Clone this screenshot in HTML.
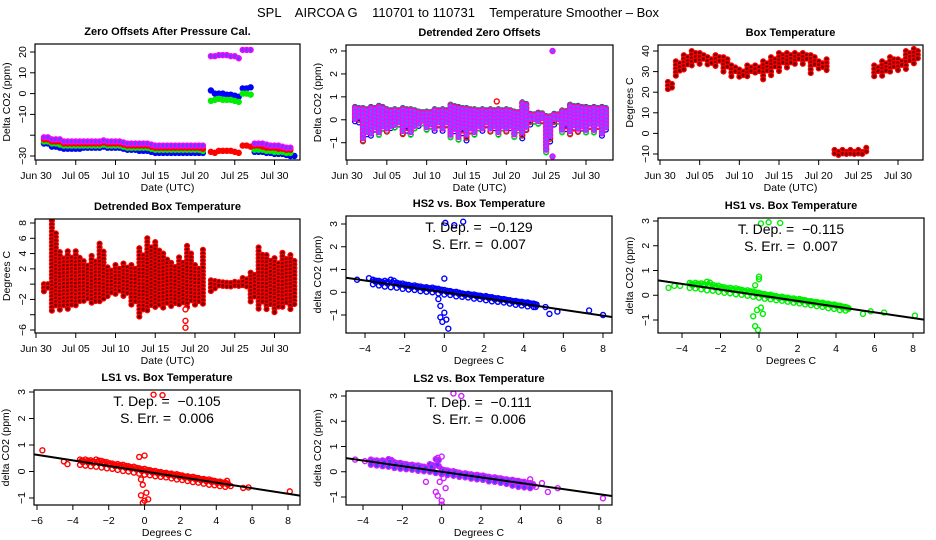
<!DOCTYPE html>
<html><head><meta charset="utf-8"><style>
html,body{margin:0;padding:0;background:#fff;}
svg{display:block;font-family:"Liberation Sans",Arial,sans-serif;}
</style></head><body>
<svg id="chart" width="936" height="540" viewBox="0 0 936 540"></svg>
<script>
// ---------- DATA ----------
const zoMag=[-21,-21,-22,-22,-22,-23,-23,-23,-23,-23,-23,-23,-23,-23,-23,-22.5,-23,-23,-23,-23,-23.5,-24,-24,-24,-24,-24,-24,-24.5,-25,-25,-25,-25,-25,-25,-25,-25,-25,-25,-25,-25,-25,null,18,18,18.5,18.5,18.5,18,18,17,21,21,21,-24,-24,-24,-24.5,-25,-25,-25,-25.5,-26,-26];
const zoRed=[-22,-22,-23,-23,-23,-24,-24,-24,-24,-24,-24,-24,-24,-24,-24,-23.5,-24,-24,-24,-24,-24.5,-25,-25,-25,-25,-25,-25,-25.5,-26,-26,-26,-26,-26,-26,-26,-26,-26,-26,-26,-26,-26.5,null,-28,-28.5,-27.5,-27.5,-27.5,-27.5,-28,-28.5,-25,-25,-25.5,-25,-25,-25.5,-26,-26,-26,-26.5,-26.5,-27,-27];
const zoGreen=[-23,-23,-24,-24,-24.5,-25,-25,-25,-25,-25,-25,-25,-25,-25,-25,-24.5,-25,-25,-25,-25,-25.5,-26,-26,-26,-26,-26,-26,-26.5,-27,-27,-27,-27,-27,-27,-27,-27,-27,-27,-27,-27,-27.5,null,-3.5,-3,-2.5,-3,-3,-3,-3.5,-4,0,0,-0.5,-27,-27,-27,-27.5,-27.5,-28,-28,-28,-28.5,-28.5];
const zoBlue=[-24,-24,-25.5,-25.5,-26,-26.5,-26.5,-26.5,-26.5,-26.5,-26,-26,-26,-26,-26,-25.5,-26,-26,-26,-26,-26.5,-27,-27,-27,-27.5,-27.5,-27.5,-28,-28.5,-28.5,-28.5,-28.5,-28.5,-28.5,-28.5,-28.5,-28.5,-28.5,-28.5,-28.5,-28.5,null,1.5,0,0,0,-0.5,-0.5,-1,-1.5,2.5,2.5,3,-28,-28,-28,-28.5,-28.5,-29,-29,-29,-29.5,-30,-30];
const dzHi=[0.5,0.45,0.5,0.55,0.4,0.4,0.45,0.4,0.3,0.3,0.4,0.4,0.6,0.5,0.45,0.4,0.4,0.4,0.4,0.4,0.3,0.7,0.2,0.25,0.1,0.2,0.35,0.6,0.55,0.5,0.5,0.5];
const dzLo=[0,-0.9,-0.6,-0.6,-0.5,-0.3,-0.6,-0.6,-0.2,-0.4,-0.4,-0.4,-0.7,-0.8,-0.8,-0.6,-0.4,-0.5,-0.6,-0.5,-0.7,-0.7,-0.1,-0.1,-1.4,-0.1,-0.5,-0.6,-0.5,-0.5,-0.5,-0.6];
const dzSpikeDay=[25.8,25.8,18.8];
const dzSpikeVal=[3.0,-1.6,0.8];
const btHi=[25,35,38,40,39,37,38,37,33,31,33,33,35,37,39,39,39,39,38,35,36,-8,-8,-8,-8,-7,33,35,37,36,40,41];
const btLo=[21,28,30,32,33,32,32,30,27,27,27,28,25,28,30,32,33,33,29,30,30,-11,-10,-10,-10,-9,27,28,29,30,30,34];
const dbHi=[0,8.3,4.2,4.3,4.3,3,3.7,5.3,2.2,2.5,2.7,2.5,4.7,6,5.5,4,2.8,3.5,5,2.5,4.5,0.5,0.3,0.2,0.3,0.8,1.5,4.8,3.8,3.4,4.1,3.8];
const dbLo=[-1,-3.5,-3.5,-3.5,-3,-2.5,-2.8,-2.6,-1.6,-1.6,-1.8,-3,-4.5,-3.8,-3.4,-3.2,-3.2,-3,-3,-2.8,-2.7,-1,-0.5,-0.5,-0.6,-0.6,-2.5,-3.4,-3.4,-3.8,-3.3,-3.4];
const dbOutDay=[18.8,18.8,18.8];
const dbOutVal=[-3.3,-4.8,-5.7];
const cloudX=[-3.6,-3.3,-3.0,-2.7,-2.4,-2.1,-1.8,-1.5,-1.2,-0.9,-0.6,-0.3,0,0.3,0.6,0.9,1.2,1.5,1.8,2.1,2.4,2.7,3.0,3.3,3.6,3.9,4.2,4.5];
const spikeX=[-0.3,-0.2,-0.1,0,0,0.1,0.2,-0.2];
const hs2Hi=[0.55,0.5,0.5,0.55,0.42,0.38,0.32,0.3,0.25,0.22,0.2,0.15,0.1,0.05,0.02,-0.05,-0.07,-0.1,-0.15,-0.17,-0.22,-0.26,-0.3,-0.35,-0.38,-0.42,-0.45,-0.5];
const hs2Lo=[0.35,0.3,0.25,0.22,0.2,0.15,0.12,0.1,0.05,0.02,0,-0.05,-0.1,-0.12,-0.18,-0.2,-0.23,-0.28,-0.3,-0.35,-0.4,-0.42,-0.45,-0.5,-0.55,-0.58,-0.62,-0.65];
const hs2Spike=[-0.3,-1.1,-1.3,-0.9,0.6,-1.2,-1.6,-0.6];
const hs2OutX=[-4.4,-3.8,4.6,5.1,5.3,5.7,7.3,8.0,0.05,0.95,0.5];
const hs2OutY=[0.55,0.62,-0.65,-0.65,-0.95,-0.85,-0.8,-1.0,3.05,3.1,2.95];
const hs1Hi=[0.5,0.5,0.48,0.55,0.42,0.38,0.32,0.3,0.28,0.22,0.2,0.15,0.1,0.05,0.02,-0.04,-0.06,-0.1,-0.13,-0.15,-0.2,-0.24,-0.27,-0.3,-0.34,-0.37,-0.42,-0.48];
const hs1Lo=[0.3,0.28,0.24,0.2,0.18,0.14,0.1,0.08,0.04,0.02,-0.02,-0.06,-0.1,-0.14,-0.16,-0.2,-0.22,-0.26,-0.3,-0.33,-0.37,-0.4,-0.44,-0.47,-0.52,-0.55,-0.6,-0.62];
const hs1Spike=[-0.85,0.4,-0.6,0.65,0.75,-0.5,-0.75,-1.25];
const hs1OutX=[-4.7,-4.4,-4.1,5.4,5.8,6.5,8.1,-0.05,0.1,0.5,1.1];
const hs1OutY=[0.3,0.38,0.38,-0.75,-0.65,-0.7,-0.82,-1.4,2.9,2.95,2.92];
const ls1Hi=[0.45,0.45,0.42,0.45,0.4,0.35,0.3,0.28,0.25,0.2,0.18,0.12,0.1,0.05,0.02,-0.02,-0.05,-0.08,-0.1,-0.15,-0.18,-0.2,-0.25,-0.28,-0.3,-0.35,-0.38,-0.42];
const ls1Lo=[0.25,0.22,0.2,0.18,0.15,0.12,0.1,0.06,0.02,0,-0.04,-0.08,-0.12,-0.14,-0.18,-0.2,-0.22,-0.26,-0.3,-0.32,-0.36,-0.4,-0.42,-0.46,-0.5,-0.52,-0.55,-0.58];
const ls1Spike=[0.55,-0.9,-0.5,0.6,-1.1,-0.8,-1.05,-0.3];
const ls1OutX=[-5.7,-4.5,-4.3,4.6,4.8,5.5,5.8,8.1,0.5,1.0,-0.1];
const ls1OutY=[0.8,0.38,0.28,-0.35,-0.55,-0.62,-0.6,-0.75,2.9,2.88,-1.18];
const ls2Hi=[0.48,0.45,0.45,0.5,0.38,0.35,0.3,0.28,0.25,0.2,0.3,0.5,0.1,0.05,0.02,-0.04,-0.06,-0.1,-0.12,-0.15,-0.2,-0.22,-0.26,-0.3,-0.32,-0.36,-0.4,-0.45];
const ls2Lo=[0.28,0.25,0.22,0.2,0.15,0.12,0.1,0.08,0.04,0.02,0,-0.05,-0.1,-0.13,-0.16,-0.2,-0.22,-0.27,-0.3,-0.32,-0.38,-0.4,-0.44,-0.48,-0.55,-0.6,-0.62,-0.65];
const ls2Spike=[-0.8,0.55,-0.4,0.6,-1.15,-0.25,-0.65,-0.95];
const ls2OutX=[-4.4,-3.9,4.5,4.8,5.1,5.4,5.9,8.2,0.6,1.0,-0.8,0];
const ls2OutY=[0.48,0.42,-0.3,-0.6,-0.45,-0.8,-0.65,-1.05,3.1,3.0,-0.4,-1.3];
const slopes=[-0.129,-0.115,-0.105,-0.111];
const intercepts=[0,0,0,0];
const sErr=["0.007","0.007","0.006","0.006"];
const dateTicks=[0,5,10,15,20,25,30];
const dateLabels=["Jun 30","Jul 05","Jul 10","Jul 15","Jul 20","Jul 25","Jul 30"];

// ---------- DRAWING ----------
const NS="http://www.w3.org/2000/svg";
const svg=document.getElementById('chart');
function mk(tag,attrs,parent){const e=document.createElementNS(NS,tag);for(const k in attrs)e.setAttribute(k,attrs[k]);(parent||svg).appendChild(e);return e;}
function txt(s,x,y,size,opts,parent){const t=mk('text',Object.assign({x:x,y:y,'font-size':size,'text-anchor':'middle',fill:'#000'},opts||{}),parent);t.textContent=s;return t;}
function lin(v1,p1,v2,p2){return v=>p1+(v-v1)*(p2-p1)/(v2-v1);}

function panel(name,box,xm,ym,title,xlab,ylab,xt,xtl,yt,ytl){
  const g=mk('g',{});
  
  
  const X=lin(xm[0],xm[1],xm[2],xm[3]),Y=lin(ym[0],ym[1],ym[2],ym[3]);
  const clip=mk('clipPath',{id:name+'-clip'},g);
  mk('rect',{x:box[0],y:box[1],width:box[2]-box[0],height:box[3]-box[1]},clip);
  const plot=mk('g',{'clip-path':'url(#'+name+'-clip)'},g);
  
  
  const frame=mk('rect',{x:box[0],y:box[1],width:box[2]-box[0],height:box[3]-box[1],fill:'none',stroke:'#000','stroke-width':1.2},g);
  
  
  const tt=txt(title,(box[0]+box[2])/2,box[1]-9,11,{'font-weight':'bold'},g);
  
  
  const xa=mk('g',{},g);
  
  
  mk('line',{x1:X(xt[0]),x2:X(xt[xt.length-1]),y1:box[3],y2:box[3],stroke:'#000'},xa);
  xt.forEach((v,i)=>{mk('line',{x1:X(v),x2:X(v),y1:box[3],y2:box[3]+5,stroke:'#000'},xa);
    const l=txt(xtl[i],X(v),box[3]+19,10.5,{},xa);
    
    });
  const xl=txt(xlab,(box[0]+box[2])/2,box[3]+31,10.5,{},g);
  
  
  const ya=mk('g',{},g);
  
  
  mk('line',{x1:box[0],x2:box[0],y1:Y(yt[0]),y2:Y(yt[yt.length-1]),stroke:'#000'},ya);
  yt.forEach((v,i)=>{mk('line',{x1:box[0],x2:box[0]-5,y1:Y(v),y2:Y(v),stroke:'#000'},ya);
    if(ytl[i]!==''){const lx=box[0]-9;const l=txt(ytl[i],lx,Y(v),10.5,{transform:'rotate(-90 '+lx+' '+Y(v)+')'},ya);
    
    }});
  const ylx=box[0]-25,yly=(box[1]+box[3])/2;
  const yl=txt(ylab,ylx,yly,10.5,{transform:'rotate(-90 '+ylx+' '+yly+')'},g);
  
  
  return {X,Y,plot,box,g};
}
function pt(P,x,y,stroke,fill,nm){const c=mk('circle',{cx:P.X(x),cy:P.Y(y),r:2.5,fill:fill||'none',stroke:stroke,'stroke-width':1.4},P.plot);
  
  }
function column(P,day,lo,hi,stroke,fill,nm){const top=P.Y(hi),bot=P.Y(lo);
  for(let py=top;py<=bot+0.1;py+=3.6){const c=mk('circle',{cx:P.X(day),cy:py,r:2.4,fill:fill,stroke:stroke,'stroke-width':1.3},P.plot);
    
    }
  if(bot-top<3.6){const c=mk('circle',{cx:P.X(day),cy:bot,r:2.4,fill:fill,stroke:stroke,'stroke-width':1.3},P.plot);
    
    }}

const mt=txt('SPL    AIRCOA G    110701 to 110731    Temperature Smoother \u2013 Box',458,17,13,{style:'white-space:pre'});



const P1=panel('zero-offsets-panel',[35,44,300,160],[0,36,30,274.5],[20,52,-30,156],'Zero Offsets After Pressure Cal.','Date (UTC)','Delta CO2 (ppm)',dateTicks,dateLabels,[-30,-20,-10,0,10,20],['\u221230','','\u221210','0','10','20']);
[[zoBlue,'#0000ff','#0000ff','blue-series'],[zoGreen,'#00ee00','#00ee00','green-series'],[zoRed,'#ff0000','#ff0000','red-series'],[zoMag,'#ff00ff','#6040ff','magenta-series']].forEach(s=>{
  s[0].forEach((v,i)=>{if(v!==null)pt(P1,1+0.5*i,v,s[1],s[2],s[3]+'-point');});});

const P2=panel('detrended-zero-offsets-panel',[346,45,613,160],[0,347,30,586],[3,51,-1,142.7],'Detrended Zero Offsets','Date (UTC)','Delta CO2 (ppm)',dateTicks,dateLabels,[-1,0,1,2,3],['\u22121','0','1','2','3']);
[['#0000ff','none',0.12,'blue'],['#00ee00','none',0.08,'green'],['#ff0000','none',0.04,'red'],['#ff00ff','#6060ff',0,'magenta']].forEach(s=>{
  dzHi.forEach((h,i)=>{column(P2,1+i,dzLo[i]-s[2],h+s[2]*0.5,s[0],s[1],s[3]+'-detrended-point');column(P2,1.5+i,dzLo[i]*0.6-s[2],h*0.9+s[2]*0.5,s[0],s[1],s[3]+'-detrended-point');});});
dzSpikeDay.forEach((d,i)=>pt(P2,d,dzSpikeVal[i],i==2?'#ff0000':'#ff00ff',i==2?'#fff':'#6060ff','spike-point'));

const P3=panel('box-temperature-panel',[658,45,923,160],[0,660,30,898],[40,51,-10,154],'Box Temperature','Date (UTC)','Degrees C',dateTicks,dateLabels,[-10,0,10,20,30,40],['\u221210','0','10','20','30','40']);
btHi.forEach((h,i)=>{column(P3,1+i,btLo[i],h,'#ff0000','#700','box-temp-point');if(i!==20&&i!==25)column(P3,1.5+i,(btLo[i]+h)/2-1,h-1,'#ff0000','#700','box-temp-point');});

const P4=panel('detrended-box-temperature-panel',[35,219,300,333],[0,36,30,274.5],[8,223,-6,330],'Detrended Box Temperature','Date (UTC)','Degrees C',dateTicks,dateLabels,[-6,-4,-2,0,2,4,6,8],['\u22126','','\u22122','','2','4','6','8']);
dbHi.forEach((h,i)=>{column(P4,1+i,dbLo[i],h,'#ff0000','#700','detrended-temp-point');if(i!==20)column(P4,1.5+i,dbLo[i]*0.8,h*0.8,'#ff0000','#700','detrended-temp-point');});
dbOutDay.forEach((d,i)=>pt(P4,d,dbOutVal[i],'#ff0000','#fff','detrended-temp-outlier'));

const xt4=[-4,-2,0,2,4,6,8],xl4=['\u22124','\u22122','0','2','4','6','8'];
const yt=[-1,0,1,2,3],ytl=['\u22121','0','1','2','3'];
function scatter(name,box,xm,ym,title,xt,xl,hi,lo,spike,ox,oy,color,fill,k){
  const P=panel(name,box,xm,ym,title,'Degrees C','delta CO2 (ppm)',xt,xl,yt,ytl);
  cloudX.forEach((x,i)=>{pt(P,x,hi[i],color,fill,'scatter-point');pt(P,x+0.15,hi[i]-0.04,color,fill,'scatter-point');pt(P,x+0.15,(hi[i]+lo[i])/2,color,fill,'scatter-point');pt(P,x+0.08,(hi[i]+lo[i])/2+0.05,color,fill,'scatter-point');pt(P,x,lo[i],color,fill,'scatter-point');});
  spikeX.forEach((x,i)=>pt(P,x,spike[i],color,'none','scatter-point'));
  ox.forEach((x,i)=>pt(P,x,oy[i],color,'none','scatter-outlier'));
  const x0=xm[0]-(xm[1]-box[0])/((xm[3]-xm[1])/(xm[2]-xm[0])),x1=xm[0]+(box[2]-xm[1])/((xm[3]-xm[1])/(xm[2]-xm[0]));
  const ln=mk('line',{x1:P.X(x0),y1:P.Y(intercepts[k]+slopes[k]*x0),x2:P.X(x1),y2:P.Y(intercepts[k]+slopes[k]*x1),stroke:'#000','stroke-width':2},P.plot);
  
  
  const cx=(box[0]+box[2])/2;
  const t1=txt('T. Dep. =  \u2212'+Math.abs(slopes[k]).toFixed(3),cx,box[1]+16,14,{style:'white-space:pre'},P.g);
  
  
  const t2=txt('S. Err. =  '+sErr[k],cx,box[1]+33,14,{style:'white-space:pre'},P.g);
  
  
}
scatter('hs2-vs-box-temp-panel',[346,216,612,333],[-4,365,8,603],[3,224,-1,315],'HS2 vs. Box Temperature',xt4,xl4,hs2Hi,hs2Lo,hs2Spike,hs2OutX,hs2OutY,'#0000ff','none',0);
scatter('hs1-vs-box-temp-panel',[658,218,924,333],[-4,682,8,913],[3,221,-1,320],'HS1 vs. Box Temperature',xt4,xl4,hs1Hi,hs1Lo,hs1Spike,hs1OutX,hs1OutY,'#00ee00','none',1);
scatter('ls1-vs-box-temp-panel',[34,390,300,505],[-6,37,8,288],[3,392,-1,498],'LS1 vs. Box Temperature',[-6,-4,-2,0,2,4,6,8],['\u22126','\u22124','\u22122','0','2','4','6','8'],ls1Hi,ls1Lo,ls1Spike,ls1OutX,ls1OutY,'#ff0000','none',2);
scatter('ls2-vs-box-temp-panel',[346,391,612,505],[-4,363,8,599],[3,396,-1,497],'LS2 vs. Box Temperature',xt4,xl4,ls2Hi,ls2Lo,ls2Spike,ls2OutX,ls2OutY,'#d020ff','#4040ff',3);
</script>
</body></html>
